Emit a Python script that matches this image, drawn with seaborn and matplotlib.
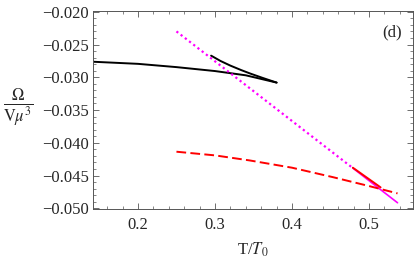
import numpy as np
import pandas as pd
import matplotlib
matplotlib.use('Agg')
import matplotlib.pyplot as plt
import seaborn as sns
from matplotlib.ticker import MultipleLocator

# Black curve: stable branch
t_black = [0.14, 0.20, 0.25, 0.30, 0.34, 0.38]
om_black = [-0.02762, -0.02795, -0.02845, -0.02905, -0.02970, -0.03081]
# Black curve: upper branch of the swallowtail
t_black2 = [0.295, 0.307, 0.320, 0.334, 0.346, 0.362, 0.38]
om_black2 = [-0.02670, -0.02750, -0.02822, -0.02890, -0.02944, -0.03010, -0.03081]

# Magenta line (dotted part and solid part)
t_mag = [0.25, 0.30, 0.35, 0.40, 0.45, 0.479]
om_mag = [-0.02300, -0.02756, -0.03211, -0.03667, -0.04122, -0.04386]
t_mag2 = [0.479, 0.51, 0.537]
om_mag2 = [-0.04386, -0.04669, -0.04915]

# Red dashed curve and red solid piece
t_red = [0.25, 0.30, 0.345, 0.40, 0.453, 0.50, 0.537]
om_red = [-0.04136, -0.04192, -0.04269, -0.04380, -0.04524, -0.04660, -0.04772]
t_red2 = [0.479, 0.497, 0.515]
om_red2 = [-0.04380, -0.04530, -0.04680]

sns.set_style('ticks')
plt.rcParams['font.family'] = ['Liberation Serif', 'DejaVu Serif']
plt.rcParams['mathtext.fontset'] = 'stix'

fig = plt.figure(figsize=(4.15, 2.58), dpi=100)
ax = fig.add_axes([0.224, 0.190, 0.771, 0.767])

sns.lineplot(x=t_black, y=om_black, ax=ax, color='black', lw=1.4)
sns.lineplot(x=t_black2, y=om_black2, ax=ax, color='black', lw=1.4)
sns.lineplot(x=t_mag, y=om_mag, ax=ax, color='#ff00ff', lw=1.6, linestyle=(0, (1, 1.4)))
sns.lineplot(x=t_mag2, y=om_mag2, ax=ax, color='#ff00ff', lw=1.2)
sns.lineplot(x=t_red, y=om_red, ax=ax, color='#ff0000', lw=1.4, linestyle=(0, (5, 2.2)))
sns.lineplot(x=t_red2, y=om_red2, ax=ax, color='#ff0000', lw=1.4)

ax.set_xlim(0.1416, 0.557)
ax.set_ylim(-0.0501, -0.0199)
ax.xaxis.set_major_locator(MultipleLocator(0.1))
ax.xaxis.set_minor_locator(MultipleLocator(0.02))
ax.yaxis.set_major_locator(MultipleLocator(0.005))
ax.yaxis.set_minor_locator(MultipleLocator(0.001))
ax.xaxis.set_major_formatter(plt.FuncFormatter(lambda v, p: f'{v:.1f}'))
ax.yaxis.set_major_formatter(plt.FuncFormatter(lambda v, p: f'{v:.3f}'.replace('-', '\u2212')))
ax.tick_params(which='both', direction='in', top=True, right=True, color='#555555',
               labelsize=12, pad=3)
ax.tick_params(axis='x', pad=6)
ax.tick_params(which='major', length=4, width=0.6)
ax.tick_params(which='minor', length=2, width=0.5)
for s in ax.spines.values():
    s.set_color('#555555')
    s.set_linewidth(0.7)

ax.set_xlabel('T/$T_0$', fontsize=12, labelpad=5)
ax.set_ylabel(r'$\frac{\Omega}{\mathrm{V}\mu^3}$', fontsize=17, rotation=0, va='center', ha='center')
ax.yaxis.set_label_coords(-0.235, 0.51)
ax.text(0.934, 0.894, '(d)', transform=ax.transAxes, fontsize=12, ha='center', va='center')

fig.savefig('out.png', dpi=100)
